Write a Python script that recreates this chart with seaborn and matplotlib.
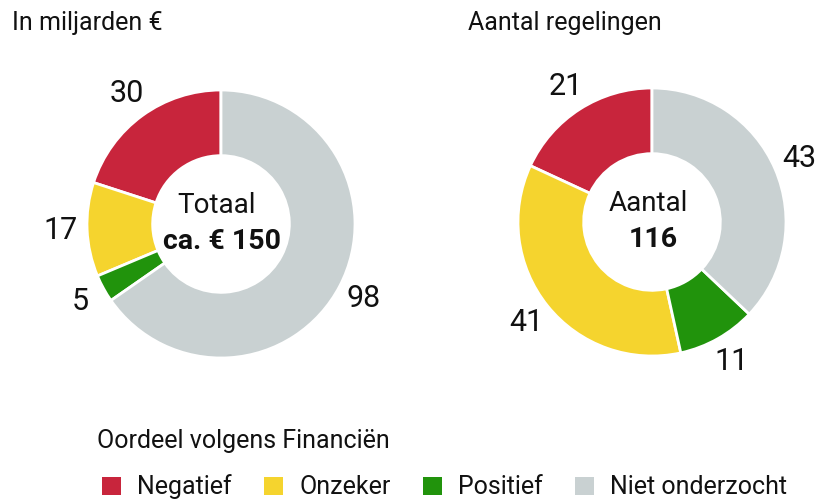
import matplotlib
matplotlib.use('Agg')
import matplotlib.pyplot as plt
import seaborn as sns
from matplotlib.patches import Patch

sns.set_theme(style='white')
plt.rcParams['font.family'] = ['Roboto', 'DejaVu Sans']

# ── Data ─────────────────────────────────────────────────────────────────────
categories = ['Negatief', 'Onzeker', 'Positief', 'Niet onderzocht']
colours = ['#C8253C', '#F5D42E', '#21930C', '#C9D1D2']
bedrag = [30, 17, 5, 98]        # in miljarden euro
aantal = [21, 41, 11, 43]       # aantal regelingen
titles = ['In miljarden €', 'Aantal regelingen']
centre_top = ['Totaal', 'Aantal']
centre_bottom = ['ca. € 150', '116']
legend_title = 'Oordeel volgens Financiën'

W, H = 816, 499
fig = plt.figure(figsize=(W / 100, H / 100), dpi=100)

# donut centres in pixels (from top-left), outer radius in px
centres = [(221, 224), (652, 222)]
R_PX = 134
LIM = 1.4
side = 2 * LIM * R_PX

for i, (vals, (cx, cy)) in enumerate(zip([bedrag, aantal], centres)):
    ax = fig.add_axes([(cx - side / 2) / W, 1 - (cy + side / 2) / H,
                       side / W, side / H])
    wedges, texts = ax.pie(vals, labels=[str(v) for v in vals], colors=colours,
                           startangle=90, counterclock=True, labeldistance=1.2,
                           wedgeprops=dict(width=0.49, edgecolor='white', linewidth=2),
                           textprops=dict(fontsize=22, color='#111111'))
    for t in texts:
        t.set_ha('center')
        t.set_va('center')
    ax.set_xlim(-LIM, LIM)
    ax.set_ylim(-LIM, LIM)
    ax.set_aspect('equal')
    ax.axis('off')
    ax.text(-0.03, 0.14, centre_top[i], ha='center', va='center',
            fontsize=20, color='#111111')
    ax.text(0.01, -0.13, centre_bottom[i], ha='center', va='center',
            fontsize=20.5, fontweight='bold', color='#111111')

fig.text(12 / W, 1 - 23 / H, titles[0], ha='left', va='center',
         fontsize=18, color='#111111')
fig.text(468 / W, 1 - 23 / H, titles[1], ha='left', va='center',
         fontsize=18, color='#111111')

# legend: title as separate text, swatches in one row below
fig.text(97 / W, 1 - 441 / H, legend_title, ha='left', va='center',
         fontsize=18, color='#111111')
handles = [Patch(facecolor=c, edgecolor='none', label=l)
           for c, l in zip(colours, categories)]
leg = fig.legend(handles=handles, ncol=4, loc='center left',
                 bbox_to_anchor=(92 / W, 1 - 487 / H), frameon=False,
                 fontsize=18, handlelength=0.76,
                 handleheight=0.76, handletextpad=0.64, columnspacing=1.3,
                 borderaxespad=0)
for t in leg.get_texts():
    t.set_color('#111111')

plt.savefig('out.png', dpi=100)
